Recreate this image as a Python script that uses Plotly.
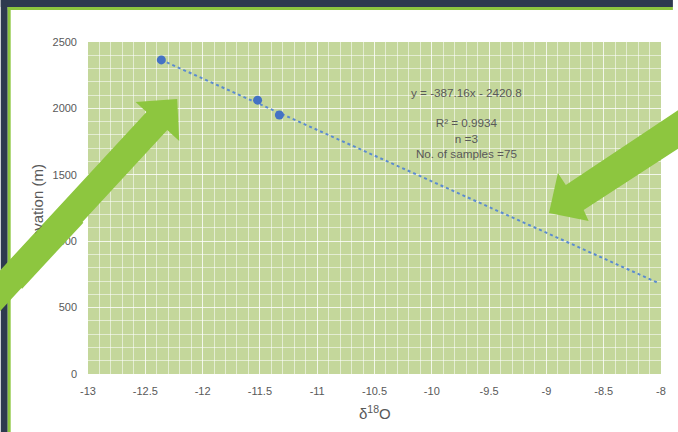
import plotly.graph_objects as go

# ---- data ----
d18O = [-12.36, -11.52, -11.33]
elevation = [2365, 2062, 1950]
trend_slope = -387.16
trend_intercept = -2420.8
trend_x = [-12.36, -8.02]
trend_y = [trend_slope * v + trend_intercept for v in trend_x]
x_ticks = [-13, -12.5, -12, -11.5, -11, -10.5, -10, -9.5, -9, -8.5, -8]
y_ticks = [0, 500, 1000, 1500, 2000, 2500]
annotation_lines = ["y = -387.16x - 2420.8", "", "R² = 0.9934", "n =3", "No. of samples =75"]
x_title = "δ<sup>18</sup>O"
y_title = "Elevation (m)"

W, H = 678, 432
L, R, T, B = 88, 666, 42, 374

def px(x):
    return (x - L) / (R - L)

def py(y):
    return (B - y) / (B - T)

def path(points):
    return "M " + " L ".join(f"{px(a):.5f},{py(b):.5f}" for a, b in points) + " Z"

GRID = "rgba(255,255,255,0.55)"
TXT = "#595959"
FONT = "Liberation Sans"
ARROW = "#8DC63F"

fig = go.Figure()
fig.add_trace(go.Scatter(x=trend_x, y=trend_y, mode="lines",
                         line=dict(color="#5B8BD0", width=2, dash="dot"),
                         hoverinfo="skip", showlegend=False))
fig.add_trace(go.Scatter(x=d18O, y=elevation, mode="markers",
                         marker=dict(color="#4472C4", size=9),
                         showlegend=False))

axis_common = dict(showline=False, zeroline=False, ticks="",
                   tickfont=dict(family=FONT, size=11, color=TXT),
                   gridcolor=GRID, gridwidth=1)
fig.update_xaxes(range=[-13, -8], tickvals=x_ticks,
                 ticktext=[f"{v:g}" for v in x_ticks],
                 minor=dict(dtick=0.1, showgrid=True, gridcolor=GRID, gridwidth=1),
                 ticklabelstandoff=9, **axis_common)
fig.update_yaxes(range=[0, 2500], tickvals=y_ticks,
                 minor=dict(dtick=100, showgrid=True, gridcolor=GRID, gridwidth=1),
                 ticklabelstandoff=10, **axis_common)

shapes = []
# frame: dark band and green line
shapes.append(dict(type="rect", xref="paper", yref="paper", x0=px(0), x1=px(W), y0=py(0), y1=py(7),
                   fillcolor="#2E3A4F", line=dict(width=0), layer="above"))
shapes.append(dict(type="rect", xref="paper", yref="paper", x0=px(0), x1=px(7), y0=py(0), y1=py(H),
                   fillcolor="#2E3A4F", line=dict(width=0), layer="above"))
shapes.append(dict(type="rect", xref="paper", yref="paper", x0=px(7), x1=px(W), y0=py(7), y1=py(10),
                   fillcolor=ARROW, line=dict(width=0), layer="above"))
shapes.append(dict(type="rect", xref="paper", yref="paper", x0=px(7), x1=px(10), y0=py(7), y1=py(H),
                   fillcolor=ARROW, line=dict(width=0), layer="above"))
# arrows
left_arrow = [(178, 99), (136, 102), (147, 112), (-20, 291), (-20, 332), (168, 130), (180, 141)]
right_arrow = [(553, 213), (562, 173), (570, 185), (700, 99), (700, 138), (588, 210), (593, 221)]
for pts in (left_arrow, right_arrow):
    shapes.append(dict(type="path", xref="paper", yref="paper", path=path(pts),
                       fillcolor=ARROW, line=dict(width=0), layer="above"))

annotations = [
    dict(xref="paper", yref="paper", x=px(470), y=py(84), xanchor="center", yanchor="top",
         text="<br>".join(annotation_lines), showarrow=False, align="center",
         font=dict(family=FONT, size=11.7, color=TXT)),
    dict(xref="paper", yref="paper", x=px(377), y=py(412), xanchor="center", yanchor="middle",
         text=x_title, showarrow=False, font=dict(family=FONT, size=15, color=TXT)),
    dict(xref="paper", yref="paper", x=px(37), y=py(208), xanchor="center", yanchor="middle",
         text=y_title, textangle=-90, showarrow=False, font=dict(family=FONT, size=15, color=TXT)),
    # piece of the left arrow's shaft laid over the axis title, as in the reference
    dict(xref="paper", yref="paper", x=px(42), y=py(245.5), xanchor="center", yanchor="middle",
         text=" ", showarrow=False, textangle=-47.1, width=90, height=28, borderpad=0,
         borderwidth=0, bgcolor=ARROW, font=dict(size=1, color=ARROW)),
]

fig.update_layout(width=W, height=H, margin=dict(l=L, r=W - R, t=T, b=H - B),
                  paper_bgcolor="white", plot_bgcolor="#C4D79B",
                  shapes=shapes, annotations=annotations, showlegend=False)

fig.write_html("out.html")
